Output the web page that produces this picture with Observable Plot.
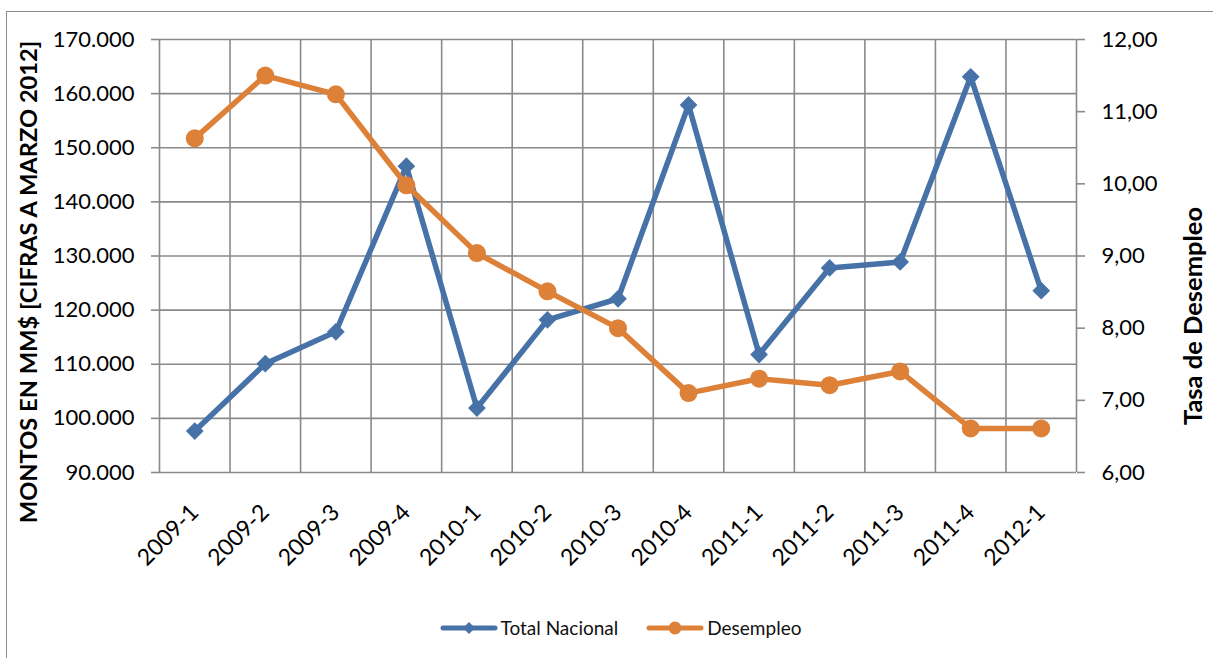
<!DOCTYPE html>
<html>
<head>
<meta charset="utf-8">
<script src="https://cdn.jsdelivr.net/npm/d3@7"></script>
<script src="https://cdn.jsdelivr.net/npm/@observablehq/plot@0.6"></script>
<style>
  html, body { margin: 0; padding: 0; background: #fff; }
  body { width: 1213px; height: 658px; overflow: hidden; position: relative; font-family: Lato, "Open Sans", sans-serif; }
  #frame { position: absolute; left: 6px; top: 11px; width: 1300px; height: 700px; border-left: 1.5px solid #8c8c8c; border-top: 1.5px solid #8c8c8c; }
  #chart { position: absolute; left: 0; top: 0; }
  #legend { position: absolute; top: 616px; left: 14px; width: 1213px; display: flex; justify-content: center; align-items: center; font-size: 19px; color: #111; }
  #legend .item { display: flex; align-items: center; margin: 0 6px; }
  #legend .item span { margin-left: 3px; }
</style>
</head>
<body>
<div id="frame"></div>
<div id="chart"></div>
<div id="legend"></div>
<script>
const categories = ["2009-1","2009-2","2009-3","2009-4","2010-1","2010-2","2010-3","2010-4","2011-1","2011-2","2011-3","2011-4","2012-1"];
const totalNacional = [97650, 110100, 116000, 146600, 101900, 118200, 122100, 157900, 111800, 127800, 128900, 163100, 123600];
const desempleo = [10.63, 11.50, 11.24, 9.98, 9.04, 8.51, 8.00, 7.10, 7.30, 7.21, 7.40, 6.61, 6.61];
const leftTicks = [90000, 100000, 110000, 120000, 130000, 140000, 150000, 160000, 170000];
const rightTicks = [6, 7, 8, 9, 10, 11, 12];
const seriesNames = ["Total Nacional", "Desempleo"];
const colors = ["#4672A8", "#DD8139"];
const leftTitle = "MONTOS EN MM$ [CIFRAS A MARZO 2012]";
const rightTitle = "Tasa de Desempleo";

const loc = d3.formatLocale({decimal: ",", thousands: ".", grouping: [3], currency: ["", "$"]});
const fmtLeft = loc.format(",");
const fmtRight = loc.format(",.2f");

// right axis values mapped onto the left scale domain
const y2 = d3.scaleLinear().domain([6, 12]).range([90000, 170000]);

const idx = d3.range(categories.length);
const blueData = idx.map(i => ({i, v: totalNacional[i]}));
const orangeData = idx.map(i => ({i, v: y2(desempleo[i])}));
const edges = d3.range(categories.length + 1).map(i => i - 0.5);
const grid = "#8a8a8a";
const font = "Lato, 'Open Sans', sans-serif";

const chart = Plot.plot({
  width: 1213,
  height: 590,
  marginLeft: 159,
  marginRight: 137,
  marginTop: 39,
  marginBottom: 118,
  style: {fontFamily: font, fontSize: "22px", color: "#000", background: "transparent"},
  x: {domain: [-0.5, categories.length - 0.5]},
  y: {domain: [90000, 170000]},
  marks: [
    Plot.ruleY(leftTicks, {stroke: grid, strokeWidth: 1.6}),
    Plot.ruleX(edges, {stroke: grid, strokeWidth: 1.6}),
    Plot.axisY(leftTicks, {anchor: "left", tickSize: 8, tickPadding: 17, stroke: grid, strokeWidth: 1.6, tickFormat: fmtLeft, label: null, fontSize: 22}),
    Plot.axisY(rightTicks, {anchor: "right", y: y2, tickSize: 8, tickPadding: 17, stroke: grid, strokeWidth: 1.6, tickFormat: fmtRight, label: null, fontSize: 22}),
    Plot.axisX(idx, {anchor: "bottom", tickSize: 0, tickRotate: -45, tickPadding: 36, tickFormat: i => categories[i], label: null, fontSize: 23}),
    Plot.text([leftTitle], {frameAnchor: "left", textAnchor: "middle", dx: -130, dy: 26, rotate: -90, fontWeight: "bold", fontSize: 23.7, fill: "#000"}),
    Plot.text([rightTitle], {frameAnchor: "right", textAnchor: "middle", dx: 117, dy: 60, rotate: -90, fontWeight: "bold", fontSize: 25.5, fill: "#000"}),
    Plot.line(blueData, {x: "i", y: "v", stroke: colors[0], strokeWidth: 5.5, strokeLinejoin: "round", strokeLinecap: "round"}),
    Plot.dot(blueData, {x: "i", y: "v", symbol: "diamond2", r: 8, fill: colors[0], stroke: "none"}),
    Plot.line(orangeData, {x: "i", y: "v", stroke: colors[1], strokeWidth: 5.5, strokeLinejoin: "round", strokeLinecap: "round"}),
    Plot.dot(orangeData, {x: "i", y: "v", symbol: "circle", r: 9, fill: colors[1], stroke: "none"})
  ]
});
document.getElementById("chart").appendChild(chart);

// legend
const legend = document.getElementById("legend");
const symbols = ["diamond", "circle"];
seriesNames.forEach((name, k) => {
  const item = document.createElement("div");
  item.className = "item";
  const ns = "http://www.w3.org/2000/svg";
  const s = document.createElementNS(ns, "svg");
  s.setAttribute("width", 58); s.setAttribute("height", 14);
  const l = document.createElementNS(ns, "line");
  l.setAttribute("x1", 3); l.setAttribute("x2", 55); l.setAttribute("y1", 7); l.setAttribute("y2", 7);
  l.setAttribute("stroke", colors[k]); l.setAttribute("stroke-width", 5); l.setAttribute("stroke-linecap", "round");
  s.appendChild(l);
  if (symbols[k] === "diamond") {
    const p = document.createElementNS(ns, "path");
    p.setAttribute("d", "M29,1L35,7L29,13L23,7Z");
    p.setAttribute("fill", colors[k]);
    s.appendChild(p);
  } else {
    const c = document.createElementNS(ns, "circle");
    c.setAttribute("cx", 29); c.setAttribute("cy", 7); c.setAttribute("r", 6.5);
    c.setAttribute("fill", colors[k]);
    s.appendChild(c);
  }
  item.appendChild(s);
  const t = document.createElement("span");
  t.textContent = name;
  item.appendChild(t);
  if (k === 0) item.style.marginRight = "22px";
  legend.appendChild(item);
});
</script>
</body>
</html>
